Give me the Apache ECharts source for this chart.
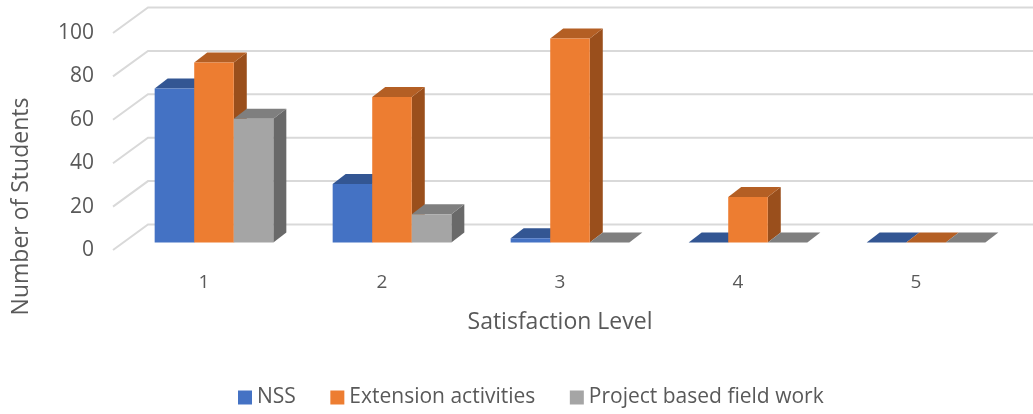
<!DOCTYPE html>
<html><head><meta charset="utf-8">
<style>html,body{margin:0;padding:0;background:#fff}#c{width:1033px;height:414px}</style>
<script src="https://cdn.jsdelivr.net/npm/echarts@6/dist/echarts.min.js"></script>
</head><body><div id="c"></div>
<script>
const categories = ['1','2','3','4','5'];
const nss = [71,27,2,0,0];
const extension = [83,67,94,21,0];
const project = [57,13,0,0,0];
const ticks = [0,20,40,60,80,100];

const FONT = '"Open Sans"';
const TXT = '#595959';
const wallD = [35,-25.5], barOff = [10,-7.5], barD = [13,-10];

function wallItem(params, api){
  const v = api.value(0);
  const p = api.coord([0, v]);
  const size = api.size([1,0])[0];
  const x0 = p[0] - size/2 - 2, y0 = p[1];
  const bx = x0 + wallD[0], by = y0 + wallD[1];
  const right = bx + size*5;
  return {type:'polyline', silent:true,
    shape:{points:[[x0,y0],[bx,by],[right,by]]},
    style:{stroke:'#d9d9d9', lineWidth:2, fill:null}};
}
function barItem(idx, front, top, side){
  return function(params, api){
    const cat = api.value(0), val = api.value(1);
    const band = api.size([1,0])[0];
    const w = band/4.5;
    const c = api.coord([cat, val]), b = api.coord([cat, 0]);
    const l = c[0] - 1.5*w + idx*w + barOff[0], r = l + w;
    const t = c[1] + barOff[1], g = b[1] + barOff[1];
    const dx = barD[0], dy = barD[1];
    const poly = (pts,fill)=>({type:'polygon', shape:{points:pts}, style:{fill:fill}});
    const kids = [];
    kids.push(poly([[r,t],[r+dx,t+dy],[r+dx,g+dy],[r,g]], side));
    kids.push(poly([[l,t],[l+dx,t+dy],[r+dx,t+dy],[r,t]], top));
    if (g - t > 0) kids.push(poly([[l,t],[r,t],[r,g],[l,g]], front));
    return {type:'group', children:kids};
  };
}
function barSeries(name, values, idx, front, top, side){
  return {name:name, type:'custom', z:3+idx, clip:false,
    itemStyle:{color:front},
    renderItem:barItem(idx, front, top, side),
    encode:{x:0,y:1},
    data:values.map((v,i)=>[i,v])};
}
const chart = echarts.init(document.getElementById('c'), null, {renderer:'canvas'});
chart.setOption({
  animation:false,
  backgroundColor:'#fff',
  grid:{left:115, width:890, top:33, height:217, containLabel:false, outerBoundsMode:'none'},
  xAxis:{type:'category', data:categories,
    axisLine:{show:false}, axisTick:{show:false}, splitLine:{show:false},
    axisLabel:{color:TXT, fontFamily:FONT, fontSize:19, margin:23},
    name:'Satisfaction Level', nameLocation:'middle', nameGap:61,
    nameTextStyle:{color:TXT, fontFamily:FONT, fontSize:23}},
  yAxis:{type:'value', min:0, max:100, interval:20,
    axisLine:{show:false}, axisTick:{show:false}, splitLine:{show:false},
    axisLabel:{color:TXT, fontFamily:FONT, fontSize:21, margin:21, padding:[0,0,2,0]},
    name:'Number of Students', nameLocation:'middle', nameGap:82, nameRotate:90,
    nameTextStyle:{color:TXT, fontFamily:FONT, fontSize:23, padding:[0,130,0,0]}},
  legend:{data:['NSS','Extension activities','Project based field work'],
    left:233, top:382, icon:'rect', itemWidth:14, itemHeight:14, itemGap:34.5,
    textStyle:{color:TXT, fontFamily:FONT, fontSize:21}},
  series:[
    {name:'wall', type:'custom', z:1, clip:false, silent:true,
     renderItem:wallItem, encode:{y:0}, data:ticks.map(v=>[v])},
    barSeries('NSS', nss, 0, '#4472C4', '#335693', '#2C4A80'),
    barSeries('Extension activities', extension, 1, '#ED7D31', '#B45F24', '#9A4F1C'),
    barSeries('Project based field work', project, 2, '#A5A5A5', '#7F7F7F', '#696969')
  ]
});
</script></body></html>
